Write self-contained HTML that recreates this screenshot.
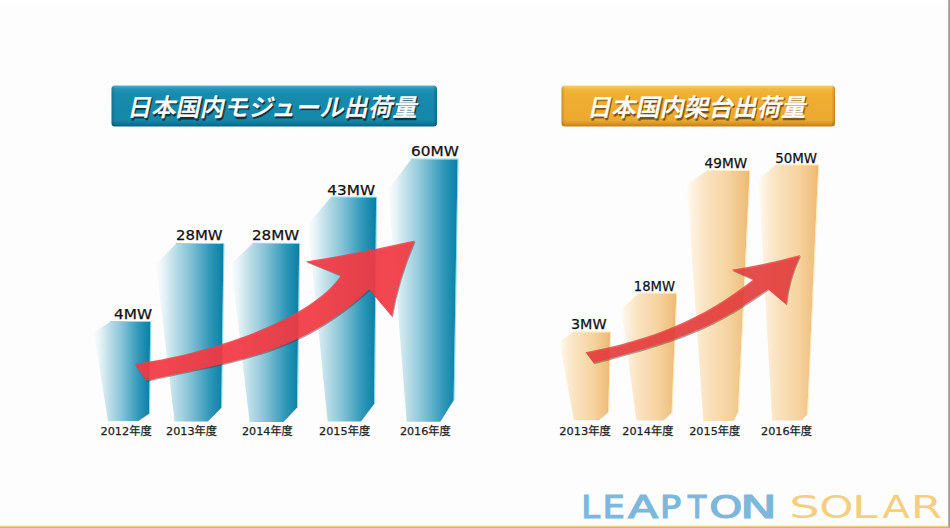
<!DOCTYPE html>
<html lang="ja">
<head>
<meta charset="utf-8">
<title>日本国内出荷量</title>
<style>
html,body{margin:0;padding:0;background:#fdfdfd;}
body{width:950px;height:528px;overflow:hidden;position:relative;}
svg{position:absolute;left:0;top:0;display:block;}
.lbl{font-family:"DejaVu Sans","Liberation Sans",sans-serif;font-size:14px;fill:#111;stroke:#111;stroke-width:0.25px;}
.yr{font-family:"DejaVu Sans","Noto Sans CJK JP",sans-serif;font-size:11px;font-weight:normal;fill:#1e1e1e;stroke:#1e1e1e;stroke-width:0.25px;}
.ttl{font-family:"Liberation Sans","Noto Sans CJK JP",sans-serif;font-size:24px;font-weight:500;fill:#fff;letter-spacing:0.3px;stroke:#fff;stroke-width:0.4px;}
</style>
</head>
<body>
<svg width="950" height="528" viewBox="0 0 950 528">
<defs>
  <linearGradient id="gTeal" x1="0" y1="0" x2="1" y2="0">
    <stop offset="0" stop-color="#fbfdfe"/>
    <stop offset="0.1" stop-color="#eaf5f8"/>
    <stop offset="0.25" stop-color="#c3e1ea"/>
    <stop offset="0.5" stop-color="#86c3d6"/>
    <stop offset="0.8" stop-color="#2f97b8"/>
    <stop offset="0.93" stop-color="#1588ad"/>
    <stop offset="1" stop-color="#0b7ea3"/>
  </linearGradient>
  <linearGradient id="gOr" x1="0" y1="0" x2="1" y2="0">
    <stop offset="0" stop-color="#fffbf5"/>
    <stop offset="0.1" stop-color="#fdf1df"/>
    <stop offset="0.28" stop-color="#fae4c3"/>
    <stop offset="0.65" stop-color="#f6d4a1"/>
    <stop offset="0.92" stop-color="#f0c07f"/>
    <stop offset="1" stop-color="#edb670"/>
  </linearGradient>
  <linearGradient id="gBanT" x1="0" y1="0" x2="0" y2="1">
    <stop offset="0" stop-color="#52b0cc"/>
    <stop offset="0.08" stop-color="#2595b6"/>
    <stop offset="0.2" stop-color="#178bae"/>
    <stop offset="0.85" stop-color="#1587a9"/>
    <stop offset="0.93" stop-color="#0f7698"/>
    <stop offset="1" stop-color="#0a6080"/>
  </linearGradient>
  <linearGradient id="gBanEdge" x1="0" y1="0" x2="1" y2="0">
    <stop offset="0" stop-color="#000" stop-opacity="0.18"/>
    <stop offset="0.012" stop-color="#000" stop-opacity="0"/>
    <stop offset="0.988" stop-color="#000" stop-opacity="0"/>
    <stop offset="1" stop-color="#000" stop-opacity="0.22"/>
  </linearGradient>
  <linearGradient id="gBanO" x1="0" y1="0" x2="0" y2="1">
    <stop offset="0" stop-color="#f8d070"/>
    <stop offset="0.08" stop-color="#f2b840"/>
    <stop offset="0.2" stop-color="#efaf33"/>
    <stop offset="0.85" stop-color="#eca930"/>
    <stop offset="0.93" stop-color="#d89424"/>
    <stop offset="1" stop-color="#bf7e18"/>
  </linearGradient>
  <linearGradient id="gEdge" x1="0" y1="0" x2="1" y2="0">
    <stop offset="0" stop-color="#c4bcb5"/>
    <stop offset="1" stop-color="#9a9089"/>
  </linearGradient>
  <filter id="fSh" x="-5%" y="-20%" width="110%" height="140%"><feGaussianBlur stdDeviation="0.6"/></filter>
  <filter id="fArrSh" x="-5%" y="-5%" width="110%" height="110%"><feGaussianBlur stdDeviation="0.7"/></filter>
</defs>
<rect x="0" y="0" width="950" height="4" fill="#ffffff"/>

<!-- banners -->
<rect x="111.5" y="85.5" width="325.5" height="41" rx="3.5" fill="url(#gBanT)"/>
<rect x="111.5" y="85.5" width="325.5" height="41" rx="3.5" fill="url(#gBanEdge)"/>
<g transform="translate(127,116) skewX(-12)">
<text class="ttl" x="1.6" y="1.8" filter="url(#fSh)" style="fill:#08303e;stroke:#08303e">日本国内モジュール出荷量</text>
<text class="ttl" x="0" y="0">日本国内モジュール出荷量</text>
</g>

<rect x="561.5" y="85.5" width="273.5" height="41" rx="3.5" fill="url(#gBanO)"/>
<rect x="561.5" y="85.5" width="273.5" height="41" rx="3.5" fill="url(#gBanEdge)"/>
<g transform="translate(587,116) skewX(-12)">
<text class="ttl" x="1.6" y="1.8" filter="url(#fSh)" style="fill:#6a4a14;stroke:#6a4a14;opacity:0.9">日本国内架台出荷量</text>
<text class="ttl" x="0" y="0">日本国内架台出荷量</text>
</g>

<!-- left bars -->
<polygon fill="url(#gTeal)" points="110,322 150.3,322 149,413.8 138.5,421 108,421 93.7,332"/>
<polygon fill="url(#gTeal)" points="175.8,244 223.5,244 221.2,408 207.9,421.6 174.6,421.6 156,264"/>
<polygon fill="url(#gTeal)" points="252.3,243.8 299.2,243.8 297,407.7 283.5,421.9 249.6,421.9 231,264"/>
<polygon fill="url(#gTeal)" points="330.7,197.6 376.1,197.6 374.1,404 361,421.4 327.7,421.4 307.7,224.5"/>
<polygon fill="url(#gTeal)" points="411,159.5 457.6,159.5 453.6,400.5 440.4,421.8 406.7,421.8 388.3,189.5"/>

<!-- right bars -->
<polygon fill="url(#gOr)" points="573.2,332.3 610.1,332.3 608.3,412.3 599,420.2 573.8,420.2 559.5,341.2"/>
<polygon fill="url(#gOr)" points="638.3,293.5 676.4,293.5 671.6,413 663.6,420.6 636.5,420.6 621.3,309.2"/>
<polygon fill="url(#gOr)" points="706.5,170.9 749.6,170.9 737.9,412.6 733.6,421 703.4,421 686.8,185"/>
<polygon fill="url(#gOr)" points="775.2,165.2 818.3,165.2 807.2,414.5 801.7,420.6 772.1,420.6 758.5,179.4"/>

<g fill="none" stroke="#28bfe6" stroke-width="0.9" stroke-opacity="0.6">
<polyline points="110.0,321.5 150.8,321.5 149.5,413.8"/>
<polyline points="175.8,243.5 224.0,243.5 221.7,408.0"/>
<polyline points="252.3,243.3 299.7,243.3 297.5,407.7"/>
<polyline points="330.7,197.1 376.6,197.1 374.6,404.0"/>
<polyline points="411.0,159.0 458.1,159.0 454.1,400.5"/>
</g>
<g fill="none" stroke="#ffe4a0" stroke-width="1" stroke-opacity="0.7">
<polyline points="573.2,331.8 610.6,331.8 608.8,412.3"/>
<polyline points="638.3,293.0 676.9,293.0 672.1,413.0"/>
<polyline points="706.5,170.4 750.1,170.4 738.4,412.6"/>
<polyline points="775.2,164.7 818.8,164.7 807.7,414.5"/>
</g>

<!-- value labels -->
<text class="lbl" x="114" y="319" textLength="38" lengthAdjust="spacingAndGlyphs">4MW</text>
<text class="lbl" x="176" y="239.7" textLength="46.6" lengthAdjust="spacingAndGlyphs">28MW</text>
<text class="lbl" x="252" y="239.7" textLength="47.2" lengthAdjust="spacingAndGlyphs">28MW</text>
<text class="lbl" x="327.3" y="194.7" textLength="47.7" lengthAdjust="spacingAndGlyphs">43MW</text>
<text class="lbl" x="411" y="156.2" textLength="47.8" lengthAdjust="spacingAndGlyphs">60MW</text>

<text class="lbl" x="571" y="328.5" textLength="35.6" lengthAdjust="spacingAndGlyphs">3MW</text>
<text class="lbl" x="633.8" y="291" textLength="41.2" lengthAdjust="spacingAndGlyphs">18MW</text>
<text class="lbl" x="704.6" y="167.8" textLength="42.5" lengthAdjust="spacingAndGlyphs">49MW</text>
<text class="lbl" x="775.2" y="163" textLength="41.8" lengthAdjust="spacingAndGlyphs">50MW</text>

<!-- year labels -->
<text class="yr" x="100.5" y="434.5" textLength="51.2" lengthAdjust="spacingAndGlyphs">2012年度</text>
<text class="yr" x="166" y="434.5" textLength="51" lengthAdjust="spacingAndGlyphs">2013年度</text>
<text class="yr" x="242" y="434.5" textLength="50.7" lengthAdjust="spacingAndGlyphs">2014年度</text>
<text class="yr" x="319" y="434.5" textLength="51.3" lengthAdjust="spacingAndGlyphs">2015年度</text>
<text class="yr" x="399.9" y="434.5" textLength="50.8" lengthAdjust="spacingAndGlyphs">2016年度</text>

<text class="yr" x="559.3" y="434.5" textLength="51.7" lengthAdjust="spacingAndGlyphs">2013年度</text>
<text class="yr" x="622.3" y="434.5" textLength="51.1" lengthAdjust="spacingAndGlyphs">2014年度</text>
<text class="yr" x="689.2" y="434.5" textLength="51.1" lengthAdjust="spacingAndGlyphs">2015年度</text>
<text class="yr" x="761" y="434.5" textLength="51.1" lengthAdjust="spacingAndGlyphs">2016年度</text>

<!-- arrows -->
<g filter="url(#fArrSh)" opacity="0.45">
<path fill="#503030" transform="translate(0.8,1.2)" d="M134.7,363.8 C202.8,354.9 309.7,321.9 340.8,275.6 L305.7,261.4 Q360.5,253 414.8,240.6 Q398.4,278.5 392,316.5 L369.2,289.5 C295.9,357.2 231.3,360.6 146,380.7 Z"/>
<path fill="#503030" transform="translate(0.8,1.2)" d="M585.5,352.2 C650.2,340 703,319.5 753.2,279.5 L731.6,269.8 Q766.2,264.4 800.2,255 Q788.6,279.7 786.3,304.4 L768.1,289 C713,327.7 684.7,339.2 593.7,363 Z"/>
</g>
<path fill="#fc3a44" fill-opacity="0.88" d="M134.7,363.8 C202.8,354.9 309.7,321.9 340.8,275.6 L305.7,261.4 Q360.5,253 414.8,240.6 Q398.4,278.5 392,316.5 L369.2,289.5 C295.9,357.2 231.3,360.6 146,380.7 Z"/>
<path fill="#f03a3a" fill-opacity="0.82" d="M585.5,352.2 C650.2,340 703,319.5 753.2,279.5 L731.6,269.8 Q766.2,264.4 800.2,255 Q788.6,279.7 786.3,304.4 L768.1,289 C713,327.7 684.7,339.2 593.7,363 Z"/>

<!-- logo -->
<g style="font-family:'DejaVu Sans',sans-serif">
<text transform="translate(581.24,517.5) scale(1.053,1)" style="font-size:32px;fill:#7db7dc;stroke:#7db7dc;stroke-width:1.2px">L</text>
<text transform="translate(602.58,517.5) scale(1.106,1)" style="font-size:32px;fill:#7db7dc;stroke:#7db7dc;stroke-width:1.2px">E</text>
<text transform="translate(628.00,517.5) scale(1.377,1)" style="font-size:32px;fill:#7db7dc;stroke:#7db7dc;stroke-width:1.2px">A</text>
<text transform="translate(659.90,517.5) scale(1.100,1)" style="font-size:32px;fill:#7db7dc;stroke:#7db7dc;stroke-width:1.2px">P</text>
<text transform="translate(688.03,517.5) scale(0.933,1)" style="font-size:32px;fill:#7db7dc;stroke:#7db7dc;stroke-width:1.2px">T</text>
<text transform="translate(709.18,517.5) scale(1.317,1)" style="font-size:32px;fill:#7db7dc;stroke:#7db7dc;stroke-width:1.2px">O</text>
<text transform="translate(739.97,517.5) scale(1.544,1)" style="font-size:32px;fill:#7db7dc;stroke:#7db7dc;stroke-width:1.2px">N</text>
<text transform="translate(789.24,518.2) scale(1.482,1)" style="font-size:32.5px;fill:#f5cf80">S</text>
<text transform="translate(819.32,518.2) scale(1.341,1)" style="font-size:32.5px;fill:#f5cf80">O</text>
<text transform="translate(851.94,518.2) scale(1.420,1)" style="font-size:32.5px;fill:#f5cf80">L</text>
<text transform="translate(882.30,518.2) scale(1.245,1)" style="font-size:32.5px;fill:#f5cf80">A</text>
<text transform="translate(910.72,518.2) scale(1.394,1)" style="font-size:32.5px;fill:#f5cf80">R</text>
</g>

<!-- bottom line & right edge -->
<rect x="0" y="525.5" width="948" height="1" fill="#f8e6a8"/>
<rect x="0" y="526.5" width="948" height="1.5" fill="#e8b430"/>
<rect x="948" y="0" width="2" height="528" fill="url(#gEdge)"/>
</svg>
</body>
</html>
